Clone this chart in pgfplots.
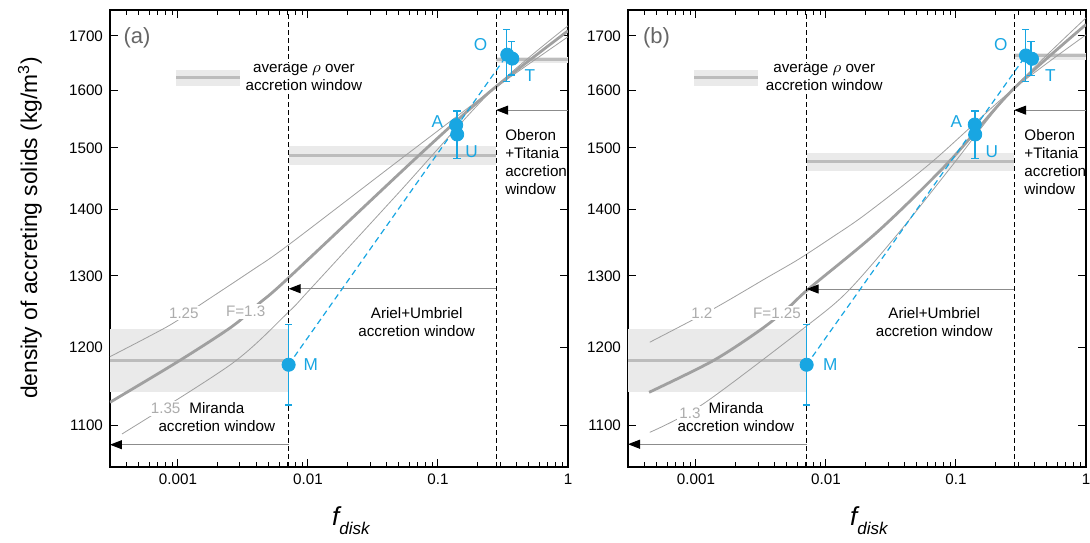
\documentclass[border=0pt]{standalone}
\usepackage{fontspec}
\setmainfont{Liberation Sans}
\usepackage{pgfplots}
\pgfplotsset{compat=1.18}
\usetikzlibrary{arrows.meta}

\definecolor{sat}{RGB}{24,166,226}
\definecolor{bandcol}{RGB}{234,234,234}
\definecolor{bandline}{RGB}{188,188,188}
\definecolor{thickcol}{RGB}{160,160,160}
\definecolor{thincol}{RGB}{160,160,160}
\definecolor{clab}{RGB}{172,172,172}
\definecolor{arrcol}{RGB}{140,140,140}

\tikzset{
  bandfill/.style={fill=bandcol, draw=none},
  bandmid/.style={draw=bandline, line width=1.3pt},
  fcurvethick/.style={draw=thickcol, line width=1.4pt, smooth},
  fcurvethin/.style={draw=thincol, line width=0.4pt, smooth},
  winline/.style={draw=black, line width=0.6pt, dash pattern=on 2.5pt off 1.5pt},
  harrow/.style={draw=arrcol, line width=0.5pt, -{Triangle[length=6pt, width=4.5pt, color=black]}},
  fitline/.style={draw=sat, line width=0.6pt, dash pattern=on 3pt off 2pt},
  ebar/.style={draw=sat, line width=0.6pt, {Bar[width=3.6pt]}-{Bar[width=3.6pt]}},
  note/.style={font=\fontsize{7.6}{8.9}\selectfont, align=center, inner sep=0.5pt},
  clabel/.style={font=\fontsize{7.6}{8}\selectfont, text=clab, fill=white, inner sep=1pt},
  slabel/.style={font=\fontsize{8.6}{9}\selectfont, text=sat, inner sep=0pt},
  plabel/.style={font=\fontsize{11}{12}\selectfont, text=black!60},
}

\begin{document}
\begin{tikzpicture}
\path[use as bounding box] (-55pt,-37.5pt) rectangle (490pt,233.5pt);

% ---------- panel (a)
\begin{axis}[
  width=229pt, height=228.5pt, scale only axis,
  at={(0pt,0pt)}, anchor=south west,
  xmode=log, ymode=log,
  xmin=0.0003, xmax=1, ymin=1050, ymax=1750,
  xtick={0.001,0.01,0.1,1}, xticklabels={0.001,0.01,0.1,1},
  minor xtick={0.0004,0.0005,0.0006,0.0007,0.0008,0.0009,0.002,0.003,0.004,0.005,0.006,0.007,0.008,0.009,0.02,0.03,0.04,0.05,0.06,0.07,0.08,0.09,0.2,0.3,0.4,0.5,0.6,0.7,0.8,0.9},
  ytick={1100,1200,1300,1400,1500,1600,1700},
  yticklabels={1100,1200,1300,1400,1500,1600,1700},
  tick style={black, line width=0.5pt},
  major tick length=4pt, minor tick length=2.5pt,
  axis line style={line width=0.6pt},
  ticklabel style={font=\fontsize{7.6}{8}\selectfont},
  ylabel={density of accreting solids (kg/m\textsuperscript{3})},
  ylabel style={font=\fontsize{11.4}{12}\selectfont, at={(axis description cs:-0.175,0.523)}, anchor=center},
  xlabel={{\fontsize{13}{14}\selectfont\itshape f}\raisebox{-4.5pt}{\fontsize{8.5}{9}\selectfont\itshape disk}},
  xlabel style={at={(axis description cs:0.526,-0.118)}, anchor=center}]

\addplot[bandfill] coordinates {(0.0003,1142) (0.0071,1142) (0.0071,1224.5) (0.0003,1224.5)};
\addplot[bandfill] coordinates {(0.0071,1471.3) (0.28,1471.3) (0.28,1502.6) (0.0071,1502.6)};
\addplot[bandfill] coordinates {(0.28,1649.3) (1,1649.3) (1,1659.9) (0.28,1659.9)};
\addplot[bandfill] coordinates {(0.00097,1607) (0.003,1607) (0.003,1637) (0.00097,1637)};
\addplot[bandmid] coordinates {(0.0003,1182.6) (0.0071,1182.6)};
\addplot[bandmid] coordinates {(0.0071,1487.5) (0.28,1487.5)};
\addplot[bandmid] coordinates {(0.28,1655.4) (1,1655.4)};
\addplot[bandmid] coordinates {(0.00097,1623) (0.003,1623)};

% F = 1.25, 1.3, 1.35
\addplot[fcurvethin] coordinates {(0.0003,1187.7) (0.000853,1229.6) (0.00145,1257.5) (0.003709,1307.9) (0.007018,1345.1) (0.05642,1487.5) (0.2617,1600.2) (1,1698.1)};
\addplot[fcurvethick] coordinates {(0.0003,1128.6) (0.001018,1182.0) (0.002602,1228.3) (0.0042,1260.4) (0.007018,1296.3) (0.07143,1487.5) (0.2603,1600.2) (1,1709.5)};
\addplot[fcurvethin] coordinates {(0.000371,1089.4) (0.002602,1178.5) (0.007018,1247.7) (0.010179,1278.9) (0.05012,1427) (0.2617,1600.2) (1,1719)};

\addplot[winline] coordinates {(0.0071,1050) (0.0071,1750)};
\addplot[winline] coordinates {(0.28,1050) (0.28,1750)};
\addplot[harrow] coordinates {(0.0071,1076.4) (0.0003,1076.4)};
\addplot[harrow] coordinates {(0.28,1281.4) (0.0071,1281.4)};
\addplot[harrow] coordinates {(1,1564.5) (0.28,1564.5)};

\addplot[fitline] coordinates {(0.0071,1177) (0.3413,1664.5)};
\addplot[ebar] coordinates {(0.0071,1124.6) (0.0071,1231.5)};
\addplot[ebar] coordinates {(0.14,1481) (0.14,1564)};
\addplot[ebar] coordinates {(0.337,1614) (0.337,1713)};
\addplot[ebar] coordinates {(0.368,1626) (0.368,1690)};
\addplot[only marks, mark=*, mark size=3.3pt, color=sat] coordinates {(0.0071,1177) (0.138,1538.5) (0.1405,1522.6) (0.3413,1664.5) (0.3728,1657.3)};

\node[clabel] at (axis cs:0.00111,1247) {1.25};
\node[clabel] at (axis cs:0.00332,1249) {F=1.3};
\node[clabel] at (axis cs:0.000804,1121) {1.35};

\node[note, fill=white] at (axis cs:0.0093,1623) {average $\rho$ over\\accretion window};
\node[note, align=left, anchor=west, inner sep=0pt] at (axis cs:0.327,1476) {Oberon\\+Titania\\accretion\\window};
\node[note] at (axis cs:0.0686,1235) {Ariel+Umbriel\\accretion window};
\node[note] at (axis cs:0.00199,1110) {Miranda\\accretion window};

\node[slabel] at (axis cs:0.0105,1177) {M};
\node[slabel] at (axis cs:0.0988,1544) {A};
\node[slabel] at (axis cs:0.1816,1493) {U};
\node[slabel] at (axis cs:0.213,1683) {O};
\node[slabel] at (axis cs:0.51,1626) {T};
\node[plabel] at (axis cs:0.000484,1697) {(a)};
\end{axis}

% ---------- panel (b)
\begin{axis}[
  width=229pt, height=228.5pt, scale only axis,
  at={(259pt,0pt)}, anchor=south west,
  xmode=log, ymode=log,
  xmin=0.0003, xmax=1, ymin=1050, ymax=1750,
  xtick={0.001,0.01,0.1,1}, xticklabels={0.001,0.01,0.1,1},
  minor xtick={0.0004,0.0005,0.0006,0.0007,0.0008,0.0009,0.002,0.003,0.004,0.005,0.006,0.007,0.008,0.009,0.02,0.03,0.04,0.05,0.06,0.07,0.08,0.09,0.2,0.3,0.4,0.5,0.6,0.7,0.8,0.9},
  ytick={1100,1200,1300,1400,1500,1600,1700},
  yticklabels={1100,1200,1300,1400,1500,1600,1700},
  tick style={black, line width=0.5pt},
  major tick length=4pt, minor tick length=2.5pt,
  axis line style={line width=0.6pt},
  ticklabel style={font=\fontsize{7.6}{8}\selectfont},
  xlabel={{\fontsize{13}{14}\selectfont\itshape f}\raisebox{-4.5pt}{\fontsize{8.5}{9}\selectfont\itshape disk}},
  xlabel style={at={(axis description cs:0.526,-0.118)}, anchor=center}]

\addplot[bandfill] coordinates {(0.0003,1142) (0.0071,1142) (0.0071,1224.5) (0.0003,1224.5)};
\addplot[bandfill] coordinates {(0.0071,1462) (0.28,1462) (0.28,1491) (0.0071,1491)};
\addplot[bandfill] coordinates {(0.28,1655.4) (1,1655.4) (1,1667.9) (0.28,1667.9)};
\addplot[bandfill] coordinates {(0.00097,1607) (0.003,1607) (0.003,1637) (0.00097,1637)};
\addplot[bandmid] coordinates {(0.0003,1182.6) (0.0071,1182.6)};
\addplot[bandmid] coordinates {(0.0071,1477) (0.28,1477)};
\addplot[bandmid] coordinates {(0.28,1663) (1,1663)};
\addplot[bandmid] coordinates {(0.00097,1623) (0.003,1623)};

% F = 1.2, 1.25, 1.3
\addplot[fcurvethin] coordinates {(0.000441,1207) (0.001353,1252.6) (0.003535,1297.6) (0.006133,1324.1) (0.010831,1355.6) (0.02018,1392.6) (0.06527,1476.3) (0.2707,1600.2) (1,1701.9)};
\addplot[fcurvethick] coordinates {(0.000436,1141.3) (0.00136,1182.5) (0.003216,1225.3) (0.00532,1257.2) (0.007325,1280.9) (0.02543,1367.2) (0.0883,1476.7) (0.2721,1600.2) (1,1721.7)};
\addplot[fcurvethin] coordinates {(0.000441,1091.4) (0.001139,1126.7) (0.007155,1229.6) (0.014917,1278.8) (0.03761,1367.9) (0.0915,1468) (0.2707,1600.2) (1,1734.5)};

\addplot[winline] coordinates {(0.0071,1050) (0.0071,1750)};
\addplot[winline] coordinates {(0.28,1050) (0.28,1750)};
\addplot[harrow] coordinates {(0.0071,1077) (0.0003,1077)};
\addplot[harrow] coordinates {(0.28,1281) (0.0071,1281)};
\addplot[harrow] coordinates {(1,1564.5) (0.28,1564.5)};

\addplot[fitline] coordinates {(0.0071,1177) (0.3453,1663)};
\addplot[ebar] coordinates {(0.0071,1124.6) (0.0071,1231.5)};
\addplot[ebar] coordinates {(0.14,1481) (0.14,1564)};
\addplot[ebar] coordinates {(0.343,1614) (0.343,1713)};
\addplot[ebar] coordinates {(0.378,1625) (0.378,1690)};
\addplot[only marks, mark=*, mark size=3.3pt, color=sat] coordinates {(0.0071,1177) (0.1394,1539.5) (0.1405,1522.6) (0.3453,1663) (0.384,1657)};

\node[clabel] at (axis cs:0.00111,1247) {1.2};
\node[clabel] at (axis cs:0.0042,1247) {F=1.25};
\node[clabel] at (axis cs:0.0009,1115) {1.3};

\node[note, fill=white] at (axis cs:0.0097,1623) {average $\rho$ over\\accretion window};
\node[note, align=left, anchor=west, inner sep=0pt] at (axis cs:0.334,1476) {Oberon\\+Titania\\accretion\\window};
\node[note] at (axis cs:0.068,1235) {Ariel+Umbriel\\accretion window};
\node[note] at (axis cs:0.00203,1110) {Miranda\\accretion window};

\node[slabel] at (axis cs:0.01079,1177) {M};
\node[slabel] at (axis cs:0.1005,1544) {A};
\node[slabel] at (axis cs:0.1887,1493) {U};
\node[slabel] at (axis cs:0.2214,1683) {O};
\node[slabel] at (axis cs:0.532,1626) {T};
\node[plabel] at (axis cs:0.000497,1697) {(b)};
\end{axis}
\end{tikzpicture}
\end{document}
